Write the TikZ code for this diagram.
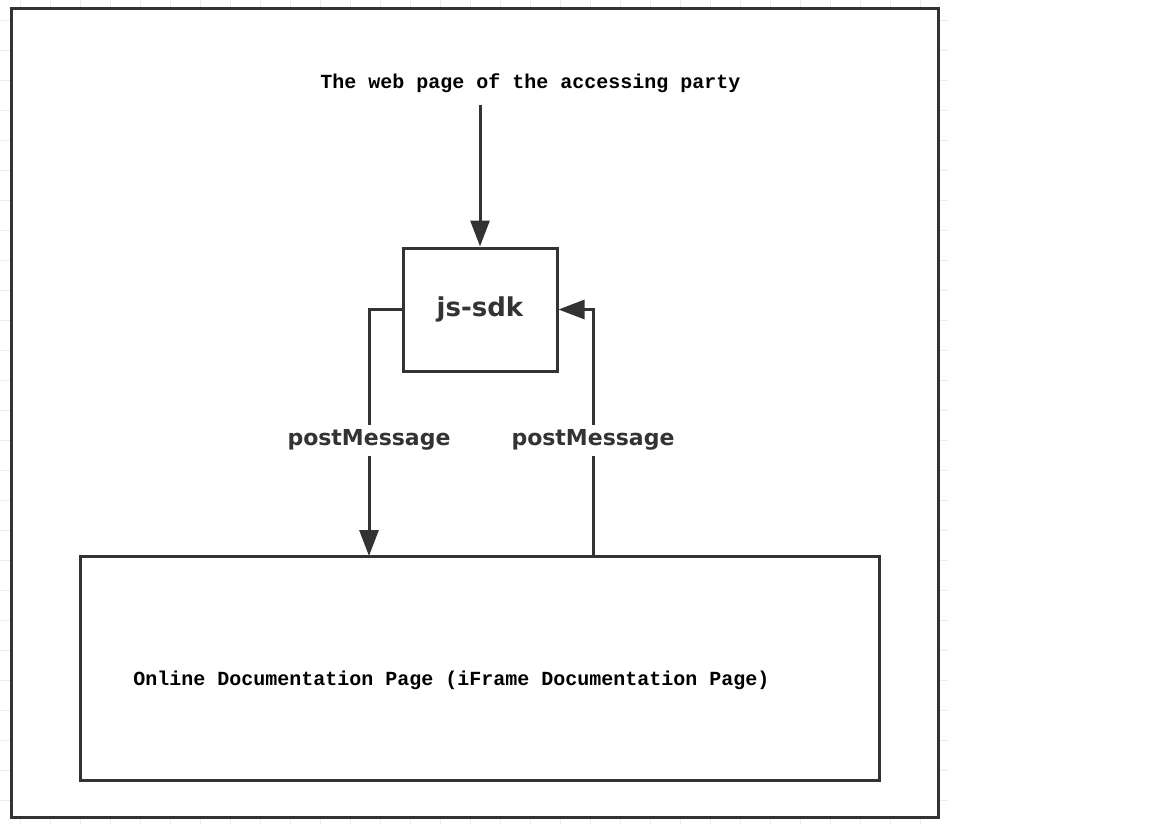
\documentclass[tikz,border=0pt]{standalone}
\usepackage{fontspec}
\newfontfamily\boxfont{DejaVu Sans}
\newfontfamily\pagefont{Liberation Mono}
\usetikzlibrary{arrows.meta,positioning}
\definecolor{linegray}{HTML}{333333}
\definecolor{gridgray}{HTML}{EBEBEB}

\begin{document}
\begin{tikzpicture}
  [
  x=1bp, y=-1bp, line width=3bp, draw=linegray,
  >={Triangle[width=19bp,length=26bp]},
  gridline/.style={line width=1bp, draw=gridgray},
  pagebox/.style={rectangle, draw=linegray, fill=white, inner sep=0pt},
  pagetext/.style={font=\pagefont\bfseries\fontsize{20bp}{24bp}\selectfont, text=black, inner sep=0pt},
  msglabel/.style={font=\boxfont\bfseries\fontsize{22bp}{26bp}\selectfont, text=linegray, fill=white, inner sep=5bp}
  ]
  \useasboundingbox (0,0) rectangle (1152,824);

  % grid behind the page
  \foreach \x in {20,50,...,940}
    \draw[gridline] (\x,0) -- (\x,824);
  \foreach \y in {20,50,...,800}
    \draw[gridline] (0,\y) -- (948,\y);

  \node[pagebox, minimum width=926bp, minimum height=808bp] (page) at (475,413) {};

  \node[pagetext] (party) at (530.5,83) {The web page of the accessing party};
  \node[pagebox, minimum width=154bp, minimum height=123bp,
    font=\boxfont\bfseries\fontsize{26bp}{30bp}\selectfont, text=linegray] (sdk) at (480,309.5) {js-sdk};
  \node[pagebox, minimum width=798bp, minimum height=224bp] (doc) at (480,668) {};
  \node[pagetext] (doctext) at (451.5,680) {Online Documentation Page (iFrame Documentation Page)};

  \coordinate (docin) at (369,556);
  \coordinate (docout) at (593,556);

  \draw[->] ([yshift=-11bp]party.south -| sdk.north) -- (sdk.north);
  \draw[->] (sdk.west) -| (docin) node[msglabel, pos=0.765] {postMessage};
  \draw[->] (docout) |- (sdk.east) node[msglabel, pos=0.235] {postMessage};
\end{tikzpicture}
\end{document}
